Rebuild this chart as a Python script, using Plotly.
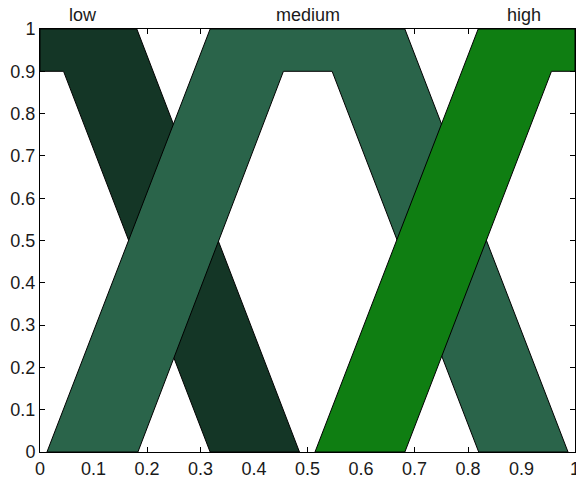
import plotly.graph_objects as go

# Interval type-2 membership functions (upper and lower MFs)
low_upper_x = [0.0, 0.181, 0.485]
low_upper_y = [1.0, 1.0, 0.0]
low_lower_x = [0.0, 0.044, 0.318]
low_lower_y = [0.9, 0.9, 0.0]

medium_upper_x = [0.013, 0.318, 0.682, 0.987]
medium_upper_y = [0.0, 1.0, 1.0, 0.0]
medium_lower_x = [0.183, 0.455, 0.546, 0.82]
medium_lower_y = [0.0, 0.9, 0.9, 0.0]

high_upper_x = [0.514, 0.819, 1.0]
high_upper_y = [0.0, 1.0, 1.0]
high_lower_x = [0.682, 0.956, 1.0]
high_lower_y = [0.0, 0.9, 0.9]

names = ["low", "medium", "high"]
label_x = [0.08, 0.5, 0.905]
colors = ["#143626", "#2a644a", "#0f7e12"]

sets = [
    (low_upper_x, low_upper_y, low_lower_x, low_lower_y),
    (medium_upper_x, medium_upper_y, medium_lower_x, medium_lower_y),
    (high_upper_x, high_upper_y, high_lower_x, high_lower_y),
]

fig = go.Figure()
for (ux, uy, lx, ly), name, col in zip(sets, names, colors):
    px = list(ux) + list(reversed(lx)) + [ux[0]]
    py = list(uy) + list(reversed(ly)) + [uy[0]]
    fig.add_trace(go.Scatter(
        x=px, y=py, mode="lines", fill="toself", fillcolor=col,
        line=dict(color="black", width=1), name=name, showlegend=False,
        hoverinfo="skip"))

for name, lx in zip(names, label_x):
    fig.add_annotation(x=lx, y=1, xref="x", yref="paper", text=name,
                       showarrow=False, yshift=14, yanchor="middle",
                       font=dict(size=18, color="#1a1a1a"))

axis_common = dict(
    range=[0, 1], dtick=0.1, tick0=0, ticks="inside", ticklen=5,
    tickcolor="black", showline=True, linecolor="black", linewidth=1,
    mirror="ticks", showgrid=False, zeroline=False, layer="below traces",
    tickfont=dict(size=18, color="#1a1a1a"), ticklabeloverflow="allow",
    automargin=False,
)

fig.update_xaxes(**axis_common)
fig.update_yaxes(**axis_common)

fig.update_layout(
    width=576, height=479,
    margin=dict(l=40, r=1, t=29, b=27),
    paper_bgcolor="white", plot_bgcolor="white",
    font=dict(family="Liberation Sans, Arial, sans-serif", size=18),
)

fig.write_html("out.html", config={"displayModeBar": False},
               post_script="document.body.style.margin='0';document.body.style.padding='0';")
